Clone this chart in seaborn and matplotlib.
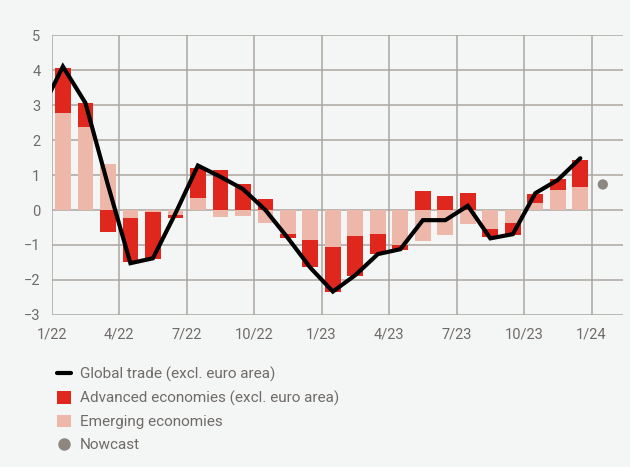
import numpy as np
import pandas as pd
import matplotlib
matplotlib.use("Agg")
import matplotlib.pyplot as plt
import seaborn as sns
from matplotlib.lines import Line2D
from matplotlib.patches import Patch


# ---------------------------------------------------------------------
# Data
# ---------------------------------------------------------------------
months = ["1/22", "2/22", "3/22", "4/22", "5/22", "6/22",
          "7/22", "8/22", "9/22", "10/22", "11/22", "12/22",
          "1/23", "2/23", "3/23", "4/23", "5/23", "6/23",
          "7/23", "8/23", "9/23", "10/23", "11/23", "12/23"]

emerging = [2.78, 2.38, 1.31, -0.22, -0.05, -0.13,
            0.34, -0.21, -0.18, -0.38, -0.68, -0.87,
            -1.05, -0.74, -0.69, -1.01, -0.88, -0.71,
            -0.40, -0.54, -0.36, 0.20, 0.57, 0.67]

advanced = [1.27, 0.68, -0.62, -1.28, -1.34, -0.11,
            0.87, 1.15, 0.75, 0.32, -0.13, -0.75,
            -1.28, -1.16, -0.57, -0.13, 0.54, 0.40,
            0.49, -0.22, -0.35, 0.27, 0.32, 0.76]

# global trade line starts one month earlier (12/21), clipped at the axis
trade_months = ["12/21"] + months
global_trade = [2.80, 4.10, 3.06, 0.72, -1.52, -1.38, -0.10,
                1.27, 0.95, 0.60, 0.00, -0.80, -1.65,
                -2.33, -1.86, -1.26, -1.12, -0.29, -0.29,
                0.12, -0.81, -0.69, 0.48, 0.86, 1.48]

nowcast_month = "1/24"
nowcast = 0.73

tick_labels = ["1/22", "4/22", "7/22", "10/22", "1/23",
               "4/23", "7/23", "10/23", "1/24"]

RED = "#E0271E"
PINK = "#EDB8AA"
GREY_DOT = "#8E8680"
GRID = "#ABA6A1"
TEXT = "#6F6B68"
BG = "#F4F6F5"

# ---------------------------------------------------------------------
# Build positions: each month is a unit interval, bars sit mid-month
# ---------------------------------------------------------------------
emerging = np.array(emerging)
advanced = np.array(advanced)
same_sign = np.sign(emerging) == np.sign(advanced)
adv_top = np.where(same_sign, emerging + advanced, advanced)

df = pd.DataFrame({
    "pos": np.arange(len(months)) + 0.5,
    "emerging": emerging,
    "adv_top": adv_top,
})
line_df = pd.DataFrame({
    "pos": np.arange(len(trade_months)) - 0.5,
    "trade": global_trade,
})
now_df = pd.DataFrame({"pos": [len(months) + 0.5], "val": [nowcast]})

# ---------------------------------------------------------------------
# Plot
# ---------------------------------------------------------------------
sns.set_style("white")
plt.rcParams["font.family"] = ["Roboto", "DejaVu Sans"]

fig = plt.figure(figsize=(6.3, 4.67), dpi=100, facecolor=BG)
ax = fig.add_axes([0.082, 0.3255, 0.907, 0.5995])
ax.set_facecolor(BG)

# red bars drawn full length first, pink (closest to zero) on top
sns.barplot(data=df, x="pos", y="adv_top", native_scale=True, width=0.7,
            color=RED, saturation=1, errorbar=None, ax=ax, zorder=2,
            edgecolor="none", linewidth=0)
sns.barplot(data=df, x="pos", y="emerging", native_scale=True, width=0.7,
            color=PINK, saturation=1, errorbar=None, ax=ax, zorder=3,
            edgecolor="none", linewidth=0)
sns.lineplot(data=line_df, x="pos", y="trade", color="black", lw=3,
             ax=ax, zorder=4, solid_joinstyle="miter")
sns.scatterplot(data=now_df, x="pos", y="val", color=GREY_DOT, s=55,
                edgecolor="none", ax=ax, zorder=4)

ax.set_xlim(0, 25.4)
ax.set_ylim(-3, 5)
ax.set_xticks(np.arange(0, 25, 3))
ax.set_xticklabels(tick_labels)
ax.set_yticks(np.arange(-3, 6, 1))
ax.set_xlabel("")
ax.set_ylabel("")

ax.grid(True, color=GRID, lw=1.1, zorder=0)
ax.set_axisbelow(True)
for s in ax.spines.values():
    s.set_visible(False)
ax.tick_params(axis="both", length=0, labelsize=10.5, labelcolor=TEXT)
ax.tick_params(axis="x", pad=9)
ax.tick_params(axis="y", pad=8)

handles = [
    Line2D([0], [0], color="black", lw=3),
    Patch(facecolor=RED, edgecolor="none"),
    Patch(facecolor=PINK, edgecolor="none"),
    Line2D([0], [0], marker="o", color="none", markerfacecolor=GREY_DOT,
           markeredgecolor="none", markersize=9),
]
labels = ["Global trade (excl. euro area)",
          "Advanced economies (excl. euro area)",
          "Emerging economies",
          "Nowcast"]
fig.legend(handles, labels, loc="upper left", bbox_to_anchor=(0.078, 0.231),
           frameon=False, fontsize=11, labelcolor=TEXT, handlelength=0.9,
           handleheight=0.9, handletextpad=0.6, labelspacing=0.56,
           borderpad=0)

fig.savefig("out.png", dpi=100, facecolor=BG)
